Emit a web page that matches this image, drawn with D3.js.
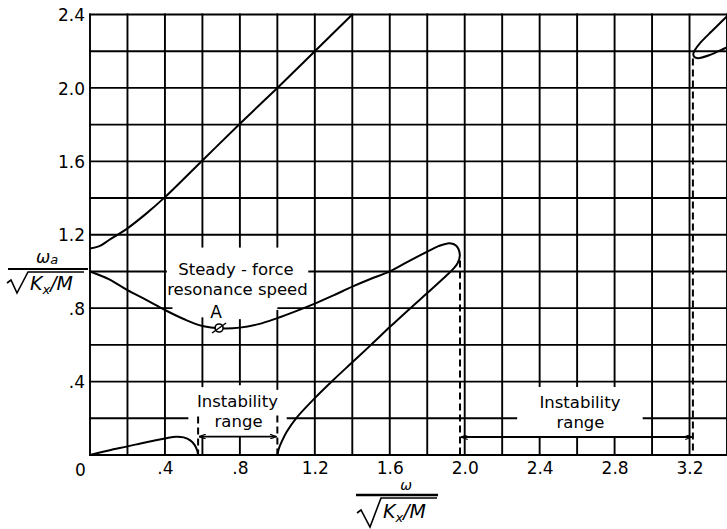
<!DOCTYPE html>
<html><head><meta charset="utf-8">
<script src="https://cdn.jsdelivr.net/npm/d3@7"></script>
<style>
html,body{margin:0;padding:0;background:#fff;}
svg{display:block;background:#fff;}
text{font-family:"DejaVu Sans",sans-serif;fill:#000;}
</style>
</head><body>
<svg id="c" width="727" height="529"></svg>
<script>
// ---------- data ----------
const xGridValues = [0,0.2,0.4,0.6,0.8,1.0,1.2,1.4,1.6,1.8,2.0,2.2,2.4,2.6,2.8,3.0,3.2,3.4];
const yGridValues = [0,0.2,0.4,0.6,0.8,1.0,1.2,1.4,1.6,1.8,2.0,2.2,2.4];
const xTickValues = [0,0.4,0.8,1.2,1.6,2.0,2.4,2.8,3.2];
const xTickLabels = ["0",".4",".8","1.2","1.6","2.0","2.4","2.8","3.2"];
const yTickValues = [0.4,0.8,1.2,1.6,2.0,2.4];
const yTickLabels = [".4",".8","1.2","1.6","2.0","2.4"];

// grid lines interrupted around the lettering (data units)
const vGridGaps = [
  {at:0.6, gaps:[[0.098,0.37],[0.75,1.13]]},
  {at:0.8, gaps:[[0.098,0.38],[0.74,1.13]]},
  {at:1.0, gaps:[[0,0.355],[0.79,1.13]]},
  {at:2.4, gaps:[[0.098,0.37]]},
  {at:2.6, gaps:[[0.098,0.37]]},
  {at:2.8, gaps:[[0.098,0.37]]}
];
const hGridGaps = [
  {at:1.0, gaps:[[0.41,1.165]]},
  {at:0.8, gaps:[[0.44,1.0]]},
  {at:0.2, gaps:[[0.525,1.05],[2.28,2.95]]}
];

// curves
const upperBranch = [[0,1.125],[0.05,1.138],[0.1,1.17],[0.2,1.235],[0.3,1.315],[0.4,1.405],[0.6,1.605],[0.8,1.805],[1.0,2.0],[1.2,2.2],[1.4,2.4]];
const resonanceCurve = [[0,1.0],[0.1,0.958],[0.2,0.898],[0.3,0.845],[0.4,0.79],[0.5,0.741],[0.6,0.703],[0.7,0.69],[0.8,0.694],[0.9,0.713],[1.0,0.746],[1.1,0.784],[1.2,0.825],[1.3,0.87],[1.4,0.917],[1.5,0.96],[1.6,1.0],[1.7,1.055],[1.8,1.108],[1.86,1.138],[1.92,1.154],[1.955,1.14],[1.974,1.09],[1.962,1.045],[1.935,1.01],[1.9,0.975],[1.8,0.882],[1.71,0.8],[1.6,0.697],[1.5,0.60],[1.4,0.505],[1.3,0.41],[1.2,0.31],[1.1,0.2],[1.05,0.127],[1.025,0.077],[1.008,0.035],[1.0,0.0]];
const lowBump = [[0,0],[0.1,0.025],[0.2,0.047],[0.3,0.07],[0.4,0.09],[0.46,0.1],[0.5,0.096],[0.535,0.08],[0.558,0.055],[0.572,0.025],[0.577,0.0]];
const rightLoop = [[3.42,2.41],[3.389,2.38],[3.32,2.31],[3.256,2.244],[3.228,2.205],[3.22,2.185],[3.226,2.168],[3.245,2.162],[3.31,2.18],[3.389,2.216],[3.42,2.23]];

// dashed boundaries of the instability ranges [x, yTop, yBottom]
const dashedBounds = [[0.577,0.21,0],[1.0,0.215,0],[1.975,1.06,0],[3.218,2.16,0]];
// range arrows [x0, x1, y]
const rangeArrows = [[0.577,1.0,0.1],[1.975,3.218,0.098]];
const pointA = [0.689,0.692];

// annotation text [text, x, y(baseline)]
const annotations = [
  ["Steady - force",0.779,0.981],
  ["resonance speed",0.787,0.872],
  ["Instability",0.787,0.262],
  ["range",0.793,0.153],
  ["Instability",2.615,0.256],
  ["range",2.618,0.147]
];

// ---------- drawing ----------
const svg = d3.select("#c");
const x = d3.scaleLinear().domain([0,3.4]).range([90,727]);
const y = d3.scaleLinear().domain([0,2.4]).range([455,14.5]);

const defs = svg.append("defs");
defs.append("clipPath").attr("id","plot")
  .append("rect").attr("x",x(0)-2).attr("y",y(2.4)-2)
  .attr("width",x(3.4)-x(0)+4).attr("height",y(0)-y(2.4)+4);
defs.append("marker").attr("id","arr").attr("viewBox","0 0 8 6")
  .attr("refX",8).attr("refY",3).attr("markerWidth",7).attr("markerHeight",5)
  .attr("markerUnits","userSpaceOnUse").attr("orient","auto-start-reverse")
  .append("path").attr("d","M0,0 L8,3 L0,6").attr("fill","none").attr("stroke","#000").attr("stroke-width",1.4);

function segments(lo,hi,gaps){
  const segs=[]; let cur=lo;
  (gaps||[]).slice().sort((a,b)=>a[0]-b[0]).forEach(g=>{
    if(g[0]>cur) segs.push([cur,g[0]]);
    cur=Math.max(cur,g[1]);
  });
  if(cur<hi) segs.push([cur,hi]);
  return segs;
}

const grid = svg.append("g").attr("stroke","#000").attr("stroke-width",1.9).attr("fill","none");
xGridValues.forEach(v=>{
  const g = vGridGaps.find(d=>Math.abs(d.at-v)<1e-6);
  segments(0,2.4,g?g.gaps:[]).forEach(s=>{
    grid.append("line").attr("x1",x(v)).attr("x2",x(v)).attr("y1",y(s[0])+(s[0]===0?1:0)).attr("y2",y(s[1])-(s[1]===2.4?1:0));
  });
});
yGridValues.forEach(v=>{
  const g = hGridGaps.find(d=>Math.abs(d.at-v)<1e-6);
  segments(0,3.4,g?g.gaps:[]).forEach(s=>{
    grid.append("line").attr("y1",y(v)).attr("y2",y(v)).attr("x1",x(s[0])-(s[0]===0?1:0)).attr("x2",x(s[1]));
  });
});

// axes labels via d3 axes
const yAxis = svg.append("g").attr("transform",`translate(${x(0)},0)`)
  .call(d3.axisLeft(y).tickValues(yTickValues).tickFormat((d,i)=>yTickLabels[i]).tickSize(0).tickPadding(5));
yAxis.select(".domain").remove();
yAxis.selectAll("text").attr("font-family","DejaVu Sans").attr("font-size",17).attr("dy","0.36em");

const xAxis = svg.append("g").attr("transform",`translate(0,${y(0)})`)
  .call(d3.axisBottom(x).tickValues(xTickValues).tickFormat((d,i)=>xTickLabels[i]).tickSize(0));
xAxis.select(".domain").remove();
xAxis.selectAll("text").attr("font-family","DejaVu Sans").attr("font-size",17).attr("dy",0)
  .attr("x",(d)=>d===0?-10:0).attr("y",(d)=>d===0?21:19);

// curves
const line = d3.line().x(d=>x(d[0])).y(d=>y(d[1])).curve(d3.curveCatmullRom.alpha(0.5));
const curves = svg.append("g").attr("clip-path","url(#plot)").attr("fill","none").attr("stroke","#000").attr("stroke-width",2);
[upperBranch,resonanceCurve,lowBump,rightLoop].forEach(c=>curves.append("path").attr("d",line(c)));

// dashed boundaries
svg.append("g").attr("stroke","#000").attr("stroke-width",2).attr("stroke-dasharray","7,4")
  .selectAll("line").data(dashedBounds).join("line")
  .attr("x1",d=>x(d[0])).attr("x2",d=>x(d[0])).attr("y1",d=>y(d[1])).attr("y2",d=>y(d[2]));

// range arrows
svg.append("g").attr("stroke","#000").attr("stroke-width",1.9)
  .selectAll("line").data(rangeArrows).join("line")
  .attr("x1",d=>x(d[0])+1).attr("x2",d=>x(d[1])-1).attr("y1",d=>y(d[2])).attr("y2",d=>y(d[2]))
  .attr("marker-start","url(#arr)").attr("marker-end","url(#arr)");

// point A
const pa = svg.append("g").attr("transform",`translate(${x(pointA[0])},${y(pointA[1])})`);
pa.append("circle").attr("r",4).attr("fill","#fff").attr("stroke","#000").attr("stroke-width",1.6);
pa.append("line").attr("x1",-7).attr("y1",5).attr("x2",7).attr("y2",-5).attr("stroke","#000").attr("stroke-width",1.5);
svg.append("text").attr("x",x(0.673)).attr("y",y(0.747)).attr("text-anchor","middle").attr("font-size",17).text("A");

// annotations
svg.append("g").selectAll("text").data(annotations).join("text")
  .attr("x",d=>x(d[1])).attr("y",d=>y(d[2])).attr("text-anchor","middle")
  .attr("font-size",16.5).text(d=>d[0]);

// y-axis title: omega_a / sqrt(Kx/M)
const yt = svg.append("g");
yt.append("text").attr("x",47).attr("y",263).attr("text-anchor","middle").attr("font-size",17).attr("font-style","italic")
  .html('ω<tspan font-size="13" dy="1">a</tspan>');
yt.append("line").attr("x1",8).attr("x2",88).attr("y1",269).attr("y2",269).attr("stroke","#000").attr("stroke-width",2);
yt.append("path").attr("d","M7,283 L11,280 L17,293 L28,272 L84,272").attr("fill","none").attr("stroke","#000").attr("stroke-width",1.6);
yt.append("text").attr("x",30).attr("y",290).attr("font-size",19).attr("font-style","italic")
  .html('K<tspan font-size="13" dy="4">x</tspan><tspan dy="-4">/M</tspan>');

// x-axis title: omega / sqrt(Kx/M)
const xt = svg.append("g");
xt.append("text").attr("x",406).attr("y",490).attr("text-anchor","middle").attr("font-size",14).attr("font-style","italic").text("ω");
xt.append("line").attr("x1",356).attr("x2",438).attr("y1",495).attr("y2",495).attr("stroke","#000").attr("stroke-width",2.4);
xt.append("path").attr("d","M357,513 L361,510 L370,527 L381,498 L437,498").attr("fill","none").attr("stroke","#000").attr("stroke-width",1.6);
xt.append("text").attr("x",383).attr("y",518).attr("font-size",19).attr("font-style","italic")
  .html('K<tspan font-size="13" dy="4">x</tspan><tspan dy="-4">/M</tspan>');
</script>
</body></html>
